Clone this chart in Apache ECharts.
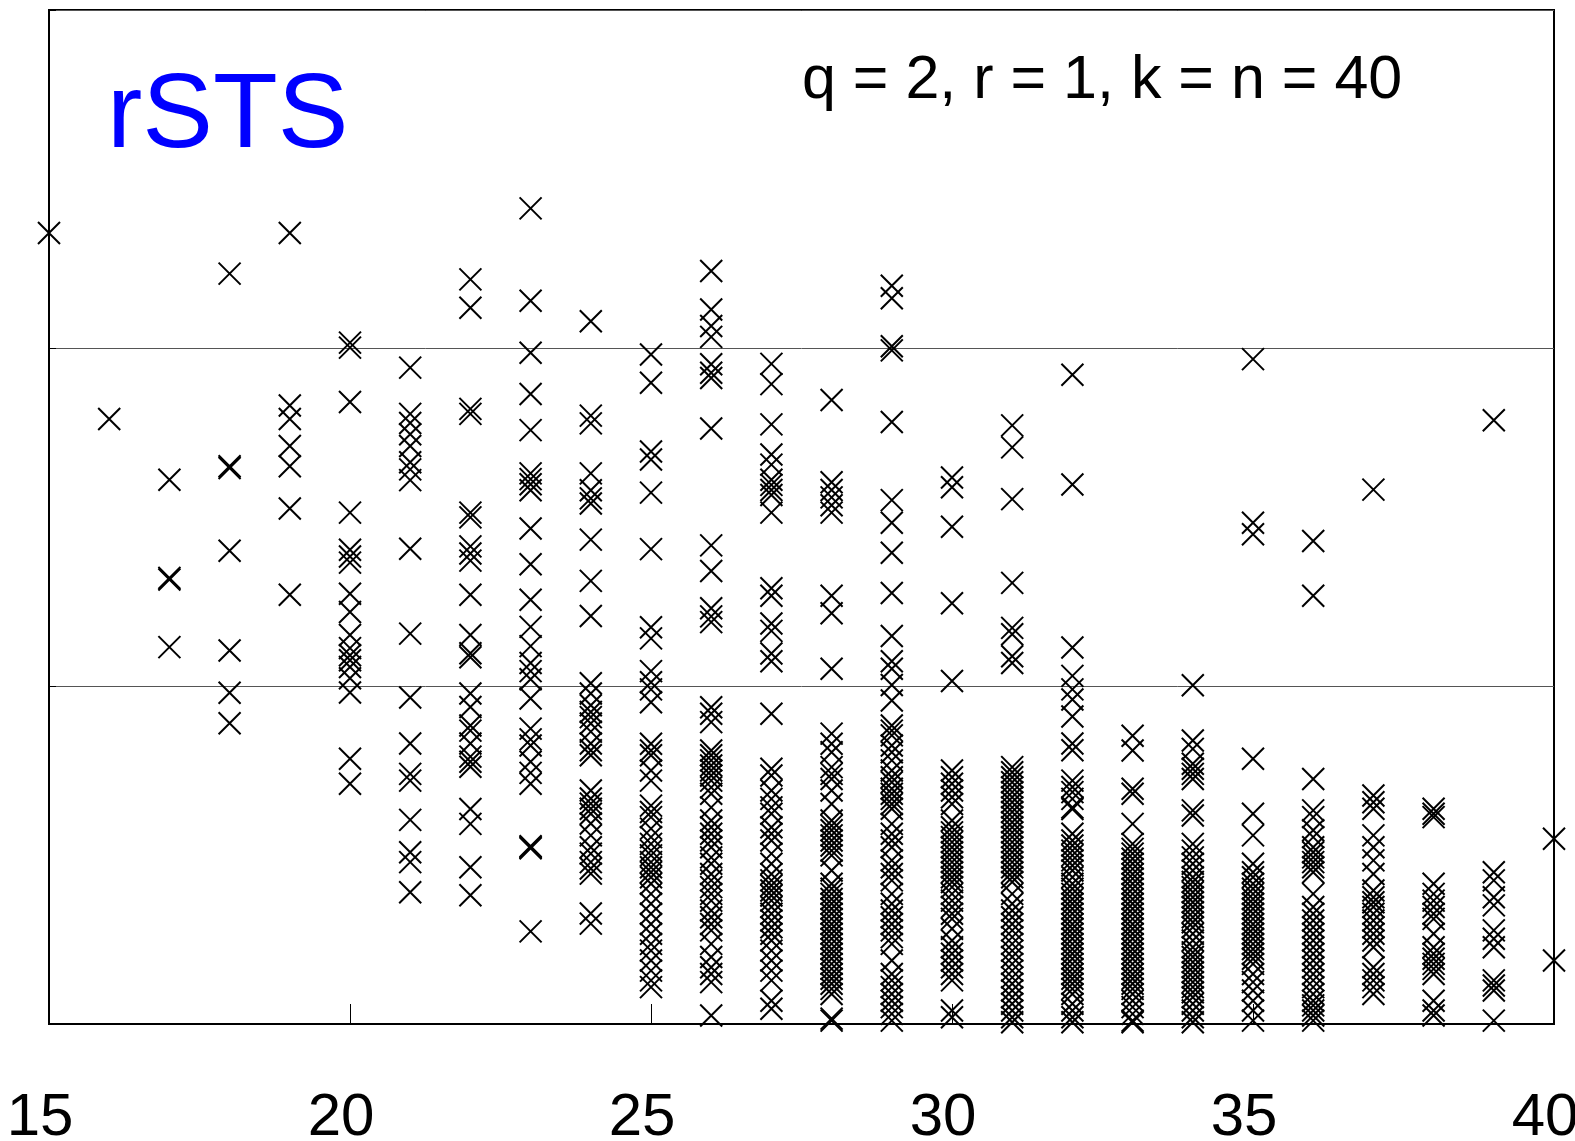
<!DOCTYPE html>
<html>
<head>
<meta charset="utf-8">
<script src="https://cdn.jsdelivr.net/npm/echarts@6/dist/echarts.min.js"></script>
<style>
html,body{margin:0;padding:0;background:#fff;}
#chart{width:1575px;height:1141px;}
</style>
</head>
<body>
<div id="chart"></div>
<script>
// x positions (one column of points per value)
const xValues = [15,16,17,18,19,20,21,22,23,24,25,26,27,28,29,30,31,32,33,34,35,36,37,38,39,40];
const xTickLabels = ['15','20','25','30','35','40'];
const titleText = 'rSTS';
const paramText = 'q = 2, r = 1, k = n = 40';

// y values per column (y axis 0..3, gridlines at 1 and 2)
const y15 = [2.34];
const y16 = [1.79];
const y17 = [1.61, 1.32, 1.315, 1.115];
const y18 = [2.22, 1.65, 1.645, 1.40, 1.105, 0.98, 0.89];
const y19 = [2.34, 1.83, 1.79, 1.71, 1.65, 1.525, 1.27];
const y20 = [2.016, 2.001, 1.84, 1.513, 1.403, 1.383, 1.365, 1.273, 1.219, 1.151, 1.112, 1.091, 1.076, 1.056, 1.023, 0.981, 0.785, 0.711];
const y21 = [1.942, 1.805, 1.778, 1.745, 1.710, 1.662, 1.641, 1.609, 1.406, 1.155, 0.966, 0.830, 0.740, 0.720, 0.604, 0.508, 0.479, 0.390];
const y22 = [2.203, 2.119, 1.820, 1.805, 1.513, 1.499, 1.413, 1.392, 1.371, 1.270, 1.151, 1.097, 1.085, 0.978, 0.938, 0.883, 0.868, 0.830, 0.791, 0.776, 0.761, 0.636, 0.592, 0.464, 0.381];
const y23 = [2.413, 2.140, 1.986, 1.864, 1.757, 1.629, 1.612, 1.597, 1.579, 1.466, 1.360, 1.255, 1.175, 1.118, 1.068, 1.044, 1.020, 0.963, 0.874, 0.842, 0.824, 0.776, 0.743, 0.711, 0.526, 0.523, 0.520, 0.274];
const y24 = [2.079, 1.800, 1.777, 1.629, 1.579, 1.555, 1.540, 1.433, 1.311, 1.207, 1.008, 0.978, 0.943, 0.923, 0.908, 0.889, 0.865, 0.830, 0.810, 0.795, 0.691, 0.667, 0.652, 0.637, 0.622, 0.593, 0.558, 0.523, 0.504, 0.479, 0.460, 0.445, 0.327, 0.297];
const y25 = [1.981, 1.897, 1.694, 1.670, 1.572, 1.405, 1.174, 1.141, 1.044, 1.011, 0.990, 0.952, 0.829, 0.809, 0.795, 0.750, 0.720, 0.646, 0.627, 0.612, 0.578, 0.553, 0.533, 0.513, 0.499, 0.479, 0.464, 0.449, 0.434, 0.415, 0.385, 0.356, 0.326, 0.296, 0.267, 0.237, 0.217, 0.188, 0.158, 0.129, 0.109];
const y26 = [2.228, 2.114, 2.065, 2.033, 1.952, 1.927, 1.911, 1.762, 1.416, 1.340, 1.230, 1.206, 1.189, 0.937, 0.918, 0.893, 0.809, 0.795, 0.780, 0.765, 0.750, 0.735, 0.720, 0.700, 0.681, 0.641, 0.602, 0.582, 0.563, 0.543, 0.523, 0.493, 0.474, 0.444, 0.425, 0.405, 0.385, 0.365, 0.336, 0.316, 0.296, 0.277, 0.237, 0.198, 0.168, 0.148, 0.124, 0.025];
const y27 = [1.953, 1.893, 1.774, 1.685, 1.655, 1.610, 1.595, 1.580, 1.565, 1.513, 1.289, 1.267, 1.185, 1.163, 1.096, 1.073, 0.918, 0.755, 0.735, 0.691, 0.666, 0.641, 0.622, 0.582, 0.563, 0.543, 0.504, 0.474, 0.444, 0.425, 0.410, 0.395, 0.380, 0.365, 0.346, 0.326, 0.306, 0.286, 0.267, 0.247, 0.217, 0.188, 0.158, 0.129, 0.069, 0.045];
const y28 = [1.846, 1.603, 1.580, 1.558, 1.535, 1.513, 1.267, 1.215, 1.051, 0.859, 0.829, 0.804, 0.760, 0.740, 0.725, 0.691, 0.651, 0.602, 0.587, 0.573, 0.558, 0.543, 0.528, 0.513, 0.499, 0.454, 0.415, 0.400, 0.385, 0.370, 0.356, 0.341, 0.326, 0.311, 0.296, 0.282, 0.267, 0.252, 0.237, 0.222, 0.208, 0.193, 0.178, 0.163, 0.148, 0.134, 0.119, 0.104, 0.089, 0.016, 0.010];
const y29 = [2.184, 2.147, 2.005, 1.993, 1.781, 1.550, 1.483, 1.394, 1.275, 1.148, 1.073, 1.051, 1.003, 0.957, 0.883, 0.868, 0.854, 0.824, 0.804, 0.780, 0.750, 0.730, 0.715, 0.696, 0.681, 0.666, 0.651, 0.637, 0.592, 0.563, 0.543, 0.523, 0.484, 0.464, 0.444, 0.425, 0.385, 0.356, 0.336, 0.316, 0.296, 0.277, 0.257, 0.237, 0.188, 0.148, 0.129, 0.109, 0.089, 0.069, 0.050, 0.030, 0.010];
const y30 = [1.617, 1.588, 1.471, 1.245, 1.015, 0.750, 0.730, 0.711, 0.691, 0.671, 0.651, 0.602, 0.582, 0.567, 0.553, 0.538, 0.523, 0.508, 0.493, 0.479, 0.464, 0.449, 0.434, 0.420, 0.405, 0.385, 0.365, 0.346, 0.326, 0.311, 0.282, 0.247, 0.227, 0.208, 0.188, 0.168, 0.148, 0.129, 0.040, 0.020];
const y31 = [1.771, 1.706, 1.553, 1.305, 1.172, 1.153, 1.088, 1.068, 0.760, 0.745, 0.730, 0.715, 0.700, 0.686, 0.671, 0.656, 0.641, 0.627, 0.612, 0.597, 0.582, 0.567, 0.553, 0.538, 0.523, 0.508, 0.493, 0.479, 0.464, 0.449, 0.434, 0.420, 0.385, 0.356, 0.336, 0.316, 0.296, 0.277, 0.257, 0.237, 0.217, 0.198, 0.178, 0.158, 0.138, 0.119, 0.099, 0.079, 0.060, 0.040, 0.020, 0.005];
const y32 = [1.921, 1.596, 1.114, 1.030, 0.990, 0.960, 0.910, 0.830, 0.810, 0.720, 0.701, 0.686, 0.666, 0.641, 0.636, 0.563, 0.543, 0.528, 0.513, 0.499, 0.484, 0.469, 0.454, 0.434, 0.415, 0.400, 0.385, 0.370, 0.356, 0.341, 0.326, 0.311, 0.296, 0.282, 0.267, 0.252, 0.237, 0.222, 0.208, 0.193, 0.178, 0.163, 0.148, 0.134, 0.119, 0.104, 0.089, 0.060, 0.040, 0.020, 0.005];
const y33 = [0.853, 0.809, 0.696, 0.681, 0.592, 0.533, 0.518, 0.504, 0.489, 0.474, 0.459, 0.444, 0.430, 0.415, 0.400, 0.385, 0.370, 0.356, 0.341, 0.326, 0.311, 0.296, 0.282, 0.267, 0.252, 0.237, 0.222, 0.208, 0.193, 0.178, 0.163, 0.148, 0.134, 0.119, 0.104, 0.089, 0.069, 0.050, 0.030, 0.010, 0.005];
const y34 = [1.002, 0.839, 0.814, 0.770, 0.755, 0.740, 0.725, 0.632, 0.617, 0.533, 0.513, 0.493, 0.474, 0.454, 0.434, 0.420, 0.405, 0.390, 0.375, 0.360, 0.346, 0.331, 0.316, 0.301, 0.286, 0.267, 0.247, 0.227, 0.212, 0.198, 0.183, 0.168, 0.153, 0.138, 0.124, 0.109, 0.094, 0.079, 0.060, 0.040, 0.020, 0.005];
const y35 = [1.967, 1.483, 1.449, 0.785, 0.622, 0.558, 0.474, 0.449, 0.434, 0.415, 0.400, 0.385, 0.370, 0.356, 0.341, 0.326, 0.311, 0.296, 0.282, 0.267, 0.252, 0.237, 0.222, 0.208, 0.193, 0.178, 0.148, 0.124, 0.099, 0.069, 0.040, 0.010];
const y36 = [1.429, 1.267, 0.725, 0.632, 0.612, 0.573, 0.553, 0.523, 0.508, 0.493, 0.479, 0.464, 0.449, 0.385, 0.346, 0.326, 0.306, 0.286, 0.267, 0.247, 0.227, 0.208, 0.188, 0.168, 0.148, 0.129, 0.109, 0.089, 0.069, 0.055, 0.040, 0.025, 0.010];
const y37 = [1.581, 0.676, 0.656, 0.637, 0.558, 0.523, 0.484, 0.444, 0.395, 0.375, 0.360, 0.346, 0.326, 0.306, 0.286, 0.267, 0.247, 0.227, 0.168, 0.148, 0.129, 0.109, 0.089];
const y38 = [0.637, 0.622, 0.612, 0.415, 0.385, 0.365, 0.346, 0.326, 0.311, 0.267, 0.227, 0.208, 0.193, 0.178, 0.163, 0.148, 0.069, 0.040, 0.025];
const y39 = [1.786, 0.449, 0.425, 0.375, 0.351, 0.277, 0.252, 0.227, 0.129, 0.114, 0.099, 0.010];
const y40 = [0.548, 0.188];

const yColumns = [y15,y16,y17,y18,y19,y20,y21,y22,y23,y24,y25,y26,y27,y28,y29,y30,y31,y32,y33,y34,y35,y36,y37,y38,y39,y40];

const points = [];
xValues.forEach((x, i) => { yColumns[i].forEach(y => points.push([x, y])); });

const chart = echarts.init(document.getElementById('chart'), null, {renderer: 'canvas'});
chart.setOption({
  animation: false,
  backgroundColor: '#ffffff',
  grid: {left: 49, right: 21, top: 10, bottom: 117, containLabel: false, outerBoundsMode: 'none',
         show: true, borderColor: '#000', borderWidth: 2, backgroundColor: 'transparent'},
  xAxis: {
    type: 'value', min: 15, max: 40, interval: 5,
    axisLine: {show: true, onZero: false, lineStyle: {color: '#000', width: 2}},
    axisTick: {show: true, inside: true, length: 20, lineStyle: {color: '#000', width: 1}},
    splitLine: {show: false},
    axisLabel: {
      show: true, margin: 64, color: '#000', fontSize: 60, fontFamily: 'Liberation Sans',
      padding: [0, 18, 0, 0], hideOverlap: false,
      formatter: v => xTickLabels.includes(String(v)) ? String(v) : ''
    }
  },
  yAxis: {
    type: 'value', min: 0, max: 3, interval: 1,
    axisLine: {show: true, lineStyle: {color: '#000', width: 2}},
    axisTick: {show: true, inside: true, length: 7, lineStyle: {color: '#000', width: 1}},
    axisLabel: {show: false},
    splitLine: {show: true, lineStyle: {color: '#555', width: 1}}
  },
  series: [{
    type: 'scatter',
    data: points,
    clip: false,
    symbol: 'path://M0,0L10,10M10,0L0,10',
    symbolSize: 22,
    itemStyle: {color: 'rgba(0,0,0,0)', borderColor: '#000', borderWidth: 2, opacity: 1},
    emphasis: {disabled: true},
    silent: true
  }],
  graphic: [
    {type: 'text', left: 107, top: 117.5 - 53, style: {text: titleText, font: '106px "Liberation Sans", Arial, sans-serif', fill: '#0000ff'}},
    {type: 'text', left: 802, top: 82 - 31, style: {text: paramText, font: '61px "Liberation Sans", Arial, sans-serif', fill: '#000'}}
  ]
});
</script>
</body>
</html>
